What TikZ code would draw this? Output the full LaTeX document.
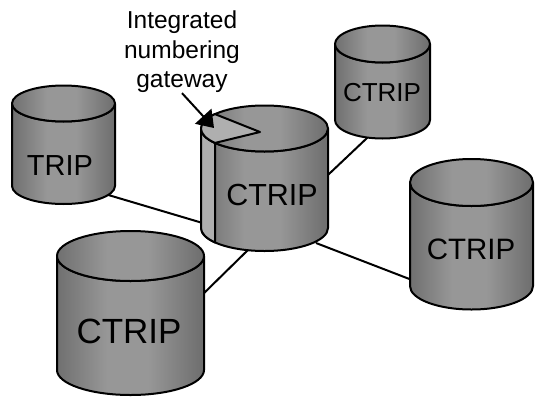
\documentclass[tikz,border=0pt]{standalone}
\usepackage{fontspec}
\setmainfont{Liberation Sans}
\usetikzlibrary{arrows.meta}

\definecolor{drumedge}{HTML}{363636}
\definecolor{drummid}{HTML}{979797}
\definecolor{slicegray}{HTML}{AFAFAF}

% grey cylinder shading: dark rims, lighter band a little left of the middle
\pgfdeclarehorizontalshading{drumshade}{100bp}{%
  color(0bp)=(drumedge); color(42bp)=(drummid); color(56bp)=(drummid); color(100bp)=(drumedge)}

\tikzset{
  drumface/.style={shading=drumshade, draw=black, line width=2pt, line join=round},
  slice/.style={fill=slicegray, draw=black, line width=2pt, line join=round},
  link/.style={draw=black, line width=2pt},
  drumlabel/.style={inner sep=0pt, text=black},
  pointer/.style={draw=black, line width=2pt, -{Triangle[length=16pt,width=22pt]}},
}

% #1 centre x, #2 top-ellipse y, #3 bottom-ellipse y, #4 x radius, #5 y radius
\newcommand\drumbody[5]{%
  \path[drumface] ({#1-#4},#2) -- ({#1-#4},#3)
    arc[start angle=180, end angle=0, x radius=#4, y radius=#5]
    -- ({#1+#4},#2)
    arc[start angle=0, end angle=180, x radius=#4, y radius=#5] -- cycle;
}
\newcommand\drumtop[5]{%
  \path[drumface] (#1,#2) ellipse[x radius=#4, y radius=#5];
}

\begin{document}
\begin{tikzpicture}[x=1pt, y=-1pt]
  \useasboundingbox (0,0) rectangle (535,399);

  % connector end points
  \coordinate (l1a) at (105,194);   \coordinate (l1b) at (206,224);
  \coordinate (l2a) at (322,180.6); \coordinate (l2b) at (372,133.3);
  \coordinate (l3a) at (316,243);   \coordinate (l3b) at (412,280);
  \coordinate (l4a) at (250,248);   \coordinate (l4b) at (199,298);

  % links between the databases (drawn first, cylinders cover their ends)
  \draw[link] (l1a) -- (l1b);
  \draw[link] (l2a) -- (l2b);
  \draw[link] (l3a) -- (l3b);
  \draw[link] (l4a) -- (l4b);

  % TRIP
  \drumbody{63.5}{103.5}{186}{51.5}{18}
  \drumtop{63.5}{103.5}{186}{51.5}{18}
  \node[drumlabel, font=\fontsize{29}{29}\selectfont] (trip) at (60,166) {TRIP};

  % small CTRIP, upper right
  \drumbody{382.5}{44}{120}{47.5}{18.5}
  \drumtop{382.5}{44}{120}{47.5}{18.5}
  \node[drumlabel, font=\fontsize{26}{26}\selectfont] (ctripa) at (382,93) {CTRIP};

  % right CTRIP
  \drumbody{471.5}{182.5}{286}{61.5}{23.5}
  \drumtop{471.5}{182.5}{286}{61.5}{23.5}
  \node[drumlabel, font=\fontsize{29.5}{29.5}\selectfont] (ctripb) at (471,249) {CTRIP};

  % large CTRIP, lower left
  \drumbody{130.5}{256}{370}{73.5}{25}
  \drumtop{130.5}{256}{370}{73.5}{25}
  \node[drumlabel, font=\fontsize{35}{35}\selectfont] (ctripc) at (129,331) {CTRIP};

  % central CTRIP with the gateway slice
  \drumbody{264.5}{128.5}{228}{63.5}{23}
  \path[slice] (201,128.5) -- (201,228)
    arc[start angle=180, end angle=141.2, x radius=63.5, y radius=23]
    -- (215,142.9)
    arc[start angle=141.2, end angle=180, x radius=63.5, y radius=23] -- cycle;
  \drumtop{264.5}{128.5}{228}{63.5}{23}
  \coordinate (hub) at (260,132);
  \path[slice] (hub) -- (215,114.1)
    arc[start angle=218.8, end angle=141.2, x radius=63.5, y radius=23] -- cycle;
  \node[drumlabel, font=\fontsize{30.5}{30.5}\selectfont] (ctripd) at (272,195) {CTRIP};

  % gateway caption and its pointer
  \node[drumlabel, align=center, font=\fontsize{24.5}{29.5}\selectfont] (gw) at (182,52)
    {Integrated\\numbering\\gateway};
  \coordinate (gwtip) at (214,128);
  \draw[pointer] (gw.south) -- (gwtip);
\end{tikzpicture}
\end{document}
